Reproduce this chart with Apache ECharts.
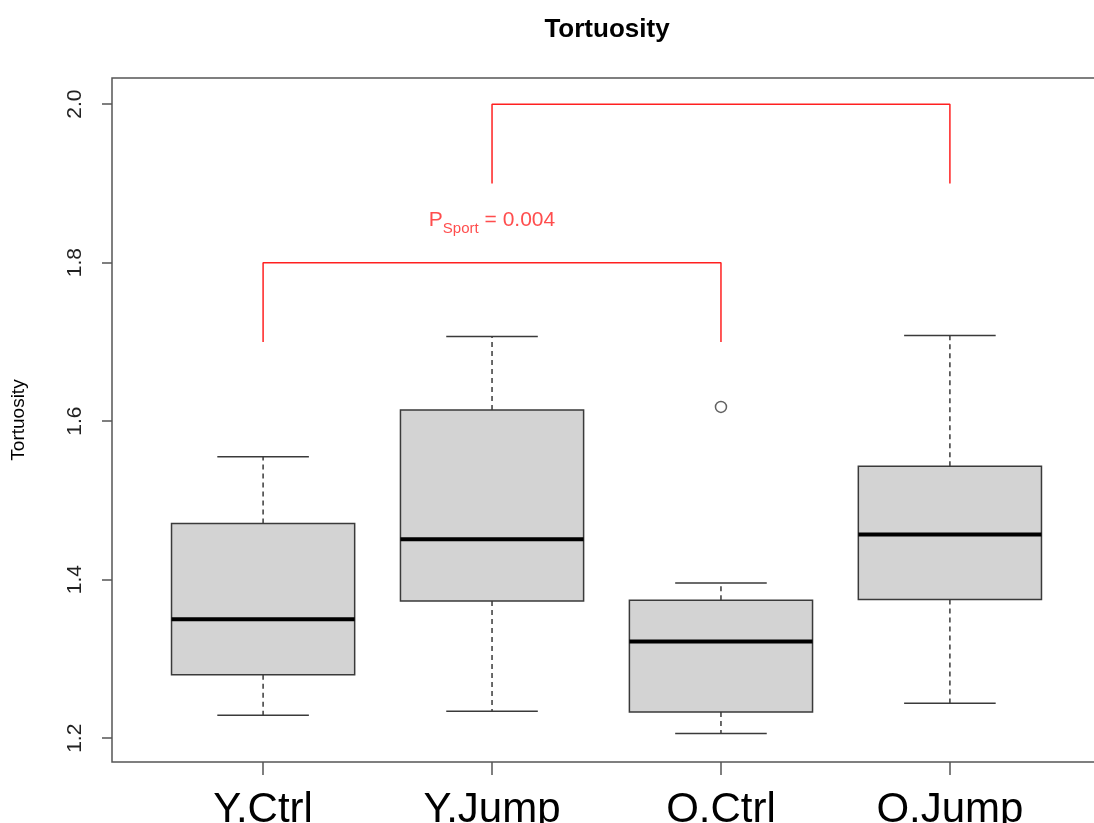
<!DOCTYPE html>
<html>
<head>
<meta charset="utf-8">
<script src="https://cdn.jsdelivr.net/npm/echarts@6/dist/echarts.min.js"></script>
<style>html,body{margin:0;padding:0;background:#fff;overflow:hidden;}#chart{width:1094px;height:823px;}</style>
</head>
<body>
<div id="chart"></div>
<script>
// ---- data ----
const categories = ['Y.Ctrl', 'Y.Jump', 'O.Ctrl', 'O.Jump'];
const lowWhisker  = [1.229, 1.234, 1.206, 1.244];
const q1          = [1.280, 1.373, 1.233, 1.375];
const median      = [1.350, 1.451, 1.322, 1.457];
const q3          = [1.471, 1.614, 1.374, 1.543];
const highWhisker = [1.555, 1.707, 1.396, 1.708];
const outlierGroups = ['O.Ctrl'];
const outlierValues = [1.618];
const yTicks = [1.2, 1.4, 1.6, 1.8, 2.0];
// significance brackets: [groupA, groupB, bottom, top]
const brackets = [
  ['Y.Ctrl', 'O.Ctrl', 1.7, 1.8],
  ['Y.Jump', 'O.Jump', 1.9, 2.0]
];
const pLabelGroup = 'Y.Jump';
const pLabelValue = 1.854;

// ---- build ----
const pos = name => categories.indexOf(name) + 1;
const boxData = categories.map((c, i) => [i + 1, lowWhisker[i], q1[i], median[i], q3[i], highWhisker[i]]);
const outlierData = outlierGroups.map((g, i) => [pos(g), outlierValues[i]]);
const FONT = 'Liberation Sans, Arial, sans-serif';
const STROKE = '#3a3a3a';
const RED = '#ff2020';

const bracketSeries = brackets.map(b => ({
  type: 'line',
  data: [[pos(b[0]), b[2]], [pos(b[0]), b[3]], [pos(b[1]), b[3]], [pos(b[1]), b[2]]],
  symbol: 'none',
  lineStyle: { color: RED, width: 1.5 },
  silent: true,
  z: 3
}));

const chart = echarts.init(document.getElementById('chart'), null, { renderer: 'canvas' });
chart.setOption({
  animation: false,
  backgroundColor: '#fff',
  title: {
    text: 'Tortuosity',
    left: 602,
    textAlign: 'center',
    top: 12,
    textStyle: { fontFamily: FONT, fontSize: 26, fontWeight: 'bold', color: '#000' }
  },
  grid: {
    left: 112, top: 78, width: 989, height: 684,
    containLabel: false,
    outerBoundsMode: 'none',
    show: true, borderColor: '#555', borderWidth: 1.5, backgroundColor: 'transparent'
  },
  xAxis: {
    type: 'value', min: 0.34, max: 4.66,
    axisLine: { show: false },
    splitLine: { show: false },
    axisTick: { show: true, customValues: [1, 2, 3, 4], length: 13, lineStyle: { color: '#555', width: 1.5 } },
    axisLabel: {
      customValues: [1, 2, 3, 4],
      formatter: v => categories[Math.round(v) - 1] || '',
      fontFamily: FONT, fontSize: 42, color: '#000', margin: 27
    }
  },
  yAxis: {
    type: 'value', min: 1.17, max: 2.033,
    name: 'Tortuosity', nameLocation: 'middle', nameGap: 84, nameRotate: 90,
    nameTextStyle: { fontFamily: FONT, fontSize: 19, color: '#000' },
    axisLine: { show: false },
    splitLine: { show: false },
    axisTick: { show: true, customValues: yTicks, length: 10, lineStyle: { color: '#555', width: 1.5 } },
    axisLabel: {
      customValues: yTicks, rotate: 90,
      formatter: v => v.toFixed(1),
      fontFamily: FONT, fontSize: 21, color: '#222', margin: 26
    }
  },
  series: [
    {
      type: 'custom',
      data: boxData,
      z: 2,
      renderItem: function (params, api) {
        const x = api.value(0);
        const pLow = api.coord([x, api.value(1)]);
        const pQ1 = api.coord([x, api.value(2)]);
        const pMed = api.coord([x, api.value(3)]);
        const pQ3 = api.coord([x, api.value(4)]);
        const pHigh = api.coord([x, api.value(5)]);
        const halfBox = api.size([0.4, 0])[0];
        const halfCap = api.size([0.2, 0])[0];
        const cx = pMed[0];
        const solid = { stroke: STROKE, lineWidth: 1.5 };
        const dashed = { stroke: STROKE, lineWidth: 1.5, lineDash: [5, 4] };
        return {
          type: 'group',
          children: [
            { type: 'line', shape: { x1: cx, y1: pQ3[1], x2: cx, y2: pHigh[1] }, style: dashed },
            { type: 'line', shape: { x1: cx, y1: pQ1[1], x2: cx, y2: pLow[1] }, style: dashed },
            { type: 'line', shape: { x1: cx - halfCap, y1: pHigh[1], x2: cx + halfCap, y2: pHigh[1] }, style: solid },
            { type: 'line', shape: { x1: cx - halfCap, y1: pLow[1], x2: cx + halfCap, y2: pLow[1] }, style: solid },
            { type: 'rect', shape: { x: cx - halfBox, y: pQ3[1], width: 2 * halfBox, height: pQ1[1] - pQ3[1] },
              style: { fill: '#d3d3d3', stroke: STROKE, lineWidth: 1.5 } },
            { type: 'line', shape: { x1: cx - halfBox, y1: pMed[1], x2: cx + halfBox, y2: pMed[1] },
              style: { stroke: '#000', lineWidth: 4 } }
          ]
        };
      }
    },
    {
      type: 'scatter',
      data: outlierData,
      symbol: 'circle',
      symbolSize: 11,
      itemStyle: { color: 'rgba(0,0,0,0)', borderColor: STROKE, borderWidth: 1.5 },
      z: 3
    },
    ...bracketSeries,
    {
      type: 'scatter',
      data: [[pos(pLabelGroup), pLabelValue]],
      symbolSize: 0,
      silent: true,
      label: {
        show: true,
        position: 'inside',
        formatter: '{p|P}{s|Sport}{p| = 0.004}',
        rich: {
          p: { fontFamily: FONT, fontSize: 21, color: RED, lineHeight: 32, verticalAlign: 'middle' },
          s: { fontFamily: FONT, fontSize: 15, color: RED, lineHeight: 15, verticalAlign: 'bottom' }
        }
      },
      z: 4
    }
  ]
});
</script>
</body>
</html>
